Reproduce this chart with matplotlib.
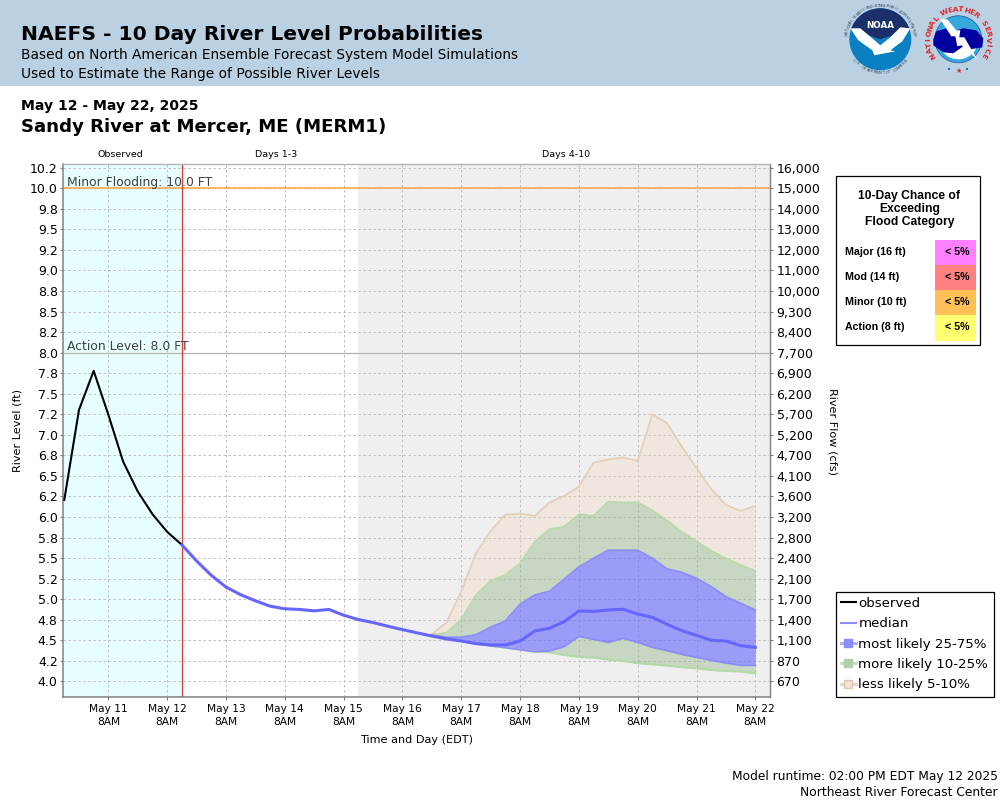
import numpy as np
import pandas as pd
import matplotlib
matplotlib.use("Agg")
import matplotlib.pyplot as plt
from matplotlib.lines import Line2D
from matplotlib.patches import Rectangle, Circle, Polygon, Wedge

# ---------- data ----------
observed = [6.208, 7.304, 7.778, 7.243, 6.675, 6.310, 6.034, 5.819, 5.661]
median_near = [5.660, 5.465, 5.290, 5.147, 5.054, 4.980, 4.915, 4.883, 4.875, 4.858,
               4.875, 4.805, 4.752, 4.716, 4.671, 4.630, 4.590]
median_far = [4.552, 4.516, 4.491, 4.459, 4.443, 4.443, 4.491, 4.613, 4.646, 4.727,
              4.856, 4.852, 4.869, 4.877, 4.820, 4.779, 4.694, 4.617, 4.560, 4.500,
              4.491, 4.435, 4.414]
tan_high = [4.573, 4.715, 5.092, 5.558, 5.830, 6.029, 6.041, 6.013, 6.175, 6.256,
            6.370, 6.662, 6.702, 6.723, 6.682, 7.250, 7.140, 6.856, 6.593, 6.341,
            6.147, 6.074, 6.134]
green_high = [4.568, 4.593, 4.755, 5.051, 5.222, 5.295, 5.437, 5.700, 5.850, 5.883,
              6.033, 6.013, 6.187, 6.175, 6.179, 6.078, 5.956, 5.818, 5.704, 5.587,
              5.497, 5.416, 5.343]
blue_high = [4.564, 4.536, 4.536, 4.568, 4.658, 4.735, 4.938, 5.051, 5.096, 5.242,
             5.392, 5.497, 5.595, 5.595, 5.595, 5.497, 5.368, 5.327, 5.254, 5.153,
             5.031, 4.950, 4.869]
blue_low = [4.552, 4.516, 4.491, 4.459, 4.435, 4.410, 4.386, 4.362, 4.370, 4.422,
            4.548, 4.512, 4.475, 4.524, 4.475, 4.414, 4.374, 4.329, 4.293, 4.256,
            4.224, 4.195, 4.195]
green_low = [4.552, 4.516, 4.491, 4.459, 4.431, 4.410, 4.386, 4.362, 4.353, 4.321,
             4.297, 4.289, 4.264, 4.248, 4.220, 4.207, 4.191, 4.171, 4.159, 4.138,
             4.126, 4.118, 4.098]

level_ticks = [10.25, 10.0, 9.75, 9.5, 9.25, 9.0, 8.75, 8.5, 8.25, 8.0, 7.75, 7.5, 7.25,
               7.0, 6.75, 6.5, 6.25, 6.0, 5.75, 5.5, 5.25, 5.0, 4.75, 4.5, 4.25, 4.0]
level_labels = ["10.2", "10.0", "9.8", "9.5", "9.2", "9.0", "8.8", "8.5", "8.2", "8.0",
                "7.8", "7.5", "7.2", "7.0", "6.8", "6.5", "6.2", "6.0", "5.8", "5.5",
                "5.2", "5.0", "4.8", "4.5", "4.2", "4.0"]
flow_labels = ["16,000", "15,000", "14,000", "13,000", "12,000", "11,000", "10,000", "9,300",
               "8,400", "7,700", "6,900", "6,200", "5,700", "5,200", "4,700", "4,100", "3,600",
               "3,200", "2,800", "2,400", "2,100", "1,700", "1,400", "1,100", "870", "670"]
day_labels = ["May 11\n8AM", "May 12\n8AM", "May 13\n8AM", "May 14\n8AM", "May 15\n8AM", "May 16\n8AM",
              "May 17\n8AM", "May 18\n8AM", "May 19\n8AM", "May 20\n8AM", "May 21\n8AM", "May 22\n8AM"]
flood_rows = ["Major (16 ft)", "Mod (14 ft)", "Minor (10 ft)", "Action (8 ft)"]
flood_chance = ["< 5%", "< 5%", "< 5%", "< 5%"]
flood_colors = ["#FF80FF", "#FF8080", "#FFC055", "#FFFF70"]

times = pd.date_range("2025-05-10 14:00", periods=48, freq="6h")
t_obs = times[:9]
t_med = times[8:]
t_band = times[25:]
median = median_near + median_far
day_ticks = pd.date_range("2025-05-11 08:00", periods=12, freq="1D")

# ---------- figure ----------
W, H = 1000, 800
fig = plt.figure(figsize=(10, 8), dpi=100, facecolor="white")
L, R, T, B = 63.3, 770.3, 164.3, 697.3
ax = fig.add_axes([L / W, 1 - B / H, (R - L) / W, (B - T) / H], zorder=2)

ax.set_xlim(pd.Timestamp("2025-05-10 13:36"), pd.Timestamp("2025-05-22 14:07"))
ax.set_ylim(3.806, 10.292)

ax.axvspan(pd.Timestamp("2025-05-10 13:36"), pd.Timestamp("2025-05-12 14:00"), color="#E8FFFF", lw=0, zorder=0)
ax.axvspan(pd.Timestamp("2025-05-15 14:00"), pd.Timestamp("2025-05-22 14:07"), color="#EFEFEF", lw=0, zorder=0)

ax.set_yticks(level_ticks)
ax.set_yticklabels(level_labels, fontsize=9)
ax.set_xticks(day_ticks)
ax.set_xticklabels(day_labels, fontsize=7.7, linespacing=1.3)
ax.grid(True, color="#C0C0C0", lw=0.72, ls=(0, (2.5, 2.5)), zorder=1)
ax.set_axisbelow(True)
ax.tick_params(axis="both", length=2, width=0.8, color="#808080", pad=2)
ax.tick_params(axis="x", pad=3)

ax.axhline(10.0, color="#FFA040", lw=1.1, zorder=2)
ax.axhline(8.0, color="#B4B4B4", lw=0.9, zorder=2)
ax.axvline(pd.Timestamp("2025-05-12 14:00"), color="#D83838", lw=0.9, zorder=2)

tan_fill = (240 / 255, 215 / 255, 180 / 255, 0.30)
green_fill = (140 / 255, 180 / 255, 130 / 255, 0.40)
blue_fill = (100 / 255, 100 / 255, 1.0, 0.60)
ax.fill_between(t_band, green_high, tan_high, color=tan_fill, lw=0, zorder=3)
ax.fill_between(t_band, blue_high, green_high, color=green_fill, lw=0, zorder=3)
ax.fill_between(t_band, green_low, blue_low, color=green_fill, lw=0, zorder=3)
ax.fill_between(t_band, blue_low, blue_high, color=blue_fill, lw=0, zorder=3)
ax.plot(t_band, tan_high, color="#E5CFB6", lw=1.3, zorder=4)
ax.plot(t_band, green_high, color="#BAD8AE", lw=1.3, zorder=4)
ax.plot(t_band, green_low, color="#B4D8A8", lw=1.5, zorder=4)
ax.plot(t_band, blue_high, color="#8C8CFA", lw=1.3, zorder=4)
ax.plot(t_band, blue_low, color="#8C8CFA", lw=1.3, zorder=4)
ax.plot(t_obs, observed, color="black", lw=1.5, zorder=5)
ax.plot(t_med, median, color="#6666FF", lw=2.2, zorder=6)

for s in ["left", "bottom"]:
    ax.spines[s].set_color("#808080")
    ax.spines[s].set_linewidth(1.1)
ax.spines["top"].set_color("#B4B4B4")
ax.spines["top"].set_linewidth(1.0)
ax.spines["right"].set_color("#808080")
ax.spines["right"].set_linewidth(1.0)

ax2 = ax.twinx()
ax2.set_ylim(ax.get_ylim())
ax2.set_yticks(level_ticks)
ax2.set_yticklabels(flow_labels, fontsize=9)
ax2.tick_params(axis="y", length=2, width=0.8, color="#808080", pad=2.5)
for s in ax2.spines.values():
    s.set_visible(False)

# ---------- overlay in pixel coordinates ----------
ov = fig.add_axes([0, 0, 1, 1], zorder=3)
ov.set_xlim(0, W)
ov.set_ylim(H, 0)
ov.axis("off")
ov.patch.set_alpha(0)
bg = fig.add_axes([0, 0, 1, 1], zorder=0)
bg.set_xlim(0, W)
bg.set_ylim(H, 0)
bg.axis("off")
bg.add_patch(Rectangle((0, 0), W, 86, color="#BAD1E4", lw=0))

ov.text(21, 39.5, "NAEFS - 10 Day River Level Probabilities", fontsize=14.6, fontweight="bold", va="baseline")
ov.text(21, 59, "Based on North American Ensemble Forecast System Model Simulations", fontsize=9.9, va="baseline")
ov.text(21, 78, "Used to Estimate the Range of Possible River Levels", fontsize=9.9, va="baseline")
ov.text(21, 110, "May 12 - May 22, 2025", fontsize=10.05, fontweight="bold", va="baseline")
ov.text(21, 132, "Sandy River at Mercer, ME (MERM1)", fontsize=13.1, fontweight="bold", va="baseline")
ov.text(120, 157, "Observed", fontsize=6.8, ha="center", va="baseline")
ov.text(276.5, 157, "Days 1-3", fontsize=6.8, ha="center", va="baseline")
ov.text(566.5, 157, "Days 4-10", fontsize=6.8, ha="center", va="baseline")
ov.text(67, 186, "Minor Flooding: 10.0 FT", fontsize=8.9, color="#404040", va="baseline")
ov.text(67, 350, "Action Level: 8.0 FT", fontsize=8.9, color="#404040", va="baseline")
ov.text(18, 431, "River Level (ft)", fontsize=8.1, rotation=90, ha="center", va="center")
ov.text(832, 431, "River Flow (cfs)", fontsize=8.1, rotation=270, ha="center", va="center")
ov.text(417, 743, "Time and Day (EDT)", fontsize=8.1, ha="center", va="baseline")
ov.text(998, 780, "Model runtime: 02:00 PM EDT May 12 2025", fontsize=8.8, ha="right", va="baseline")
ov.text(998, 795.7, "Northeast River Forecast Center", fontsize=8.8, ha="right", va="baseline")

# flood category table
sans = "Liberation Sans"
ov.add_patch(Rectangle((836.3, 176.3), 144, 169, fc="white", ec="black", lw=0.9))
for i, line in enumerate(["10-Day Chance of", "Exceeding", "Flood Category"]):
    ov.text(909.5, 199 + 13 * i, line, family=sans, fontweight="bold", fontsize=8.7, ha="center", va="baseline")
row_edges = [240, 265, 290, 315, 341]
for i, (lab, ch, col) in enumerate(zip(flood_rows, flood_chance, flood_colors)):
    ov.add_patch(Rectangle((935, row_edges[i]), 41, row_edges[i + 1] - row_edges[i], fc=col, lw=0))
    ov.text(845, row_edges[i] + 15, lab, family=sans, fontweight="bold", fontsize=7.7, va="baseline")
    ov.text(969.5, row_edges[i] + 15, ch, family=sans, fontweight="bold", fontsize=7.7, ha="right", va="baseline")

# legend
handles = [
    Line2D([], [], color="black", lw=1.5, label="observed"),
    Line2D([], [], color="#8C8CFF", lw=1.5, label="median"),
    Line2D([], [], color="#A8A8FF", lw=2, marker="s", ms=5.5, mfc="#8C8CFA", mec="#8C8CFA", label="most likely 25-75%"),
    Line2D([], [], color="#C0DCB8", lw=2, marker="s", ms=5.5, mfc="#B0D0A8", mec="#B0D0A8", label="more likely 10-25%"),
    Line2D([], [], color="#E8D4BE", lw=2, marker="s", ms=5.5, mfc="#EFE4D6", mec="#E0C8B0", label="less likely 5-10%"),
]
fig.legend(handles=handles, loc="upper left", bbox_to_anchor=(835.5 / W, 1 - 591.5 / H), fontsize=9.65,
           frameon=True, fancybox=False, framealpha=1, edgecolor="black", borderpad=0.4, labelspacing=0.55,
           handlelength=1.1, handletextpad=0.2, borderaxespad=0).get_frame().set_linewidth(0.9)


# logos (decorative)
def ring_text(cx, cy, r, text, start, end, flip=False, **kw):
    angs = np.linspace(start, end, len(text))
    for ch, a in zip(text, angs):
        x = cx + r * np.cos(np.radians(a))
        y = cy - r * np.sin(np.radians(a))
        rot = a + 90 if flip else a - 90
        ov.text(x, y, ch, rotation=rot, ha="center", va="center", rotation_mode="anchor", **kw)


cx, cy = 880.3, 39.3
ov.add_patch(Circle((cx, cy), 31, fc="#0A7FC2", ec="none"))
ov.add_patch(Wedge((cx, cy), 31, 198, 342, fc="#1B2F6B", ec="none"))
ov.add_patch(Polygon([(cx - 30, cy - 11), (cx - 20, cy - 11), (cx - 8, cy - 1), (cx, cy + 6), (cx + 10, cy - 2),
                      (cx + 20, cy - 12), (cx + 30, cy - 11), (cx + 22, cy + 2), (cx + 10, cy + 11), (cx + 15, cy + 12),
                      (cx - 6, cy + 16), (cx - 8, cy + 11), (cx - 22, cy + 1)],
                     fc="white", ec="none"))
ov.text(cx, cy - 14, "NOAA", color="white", fontsize=6.3, fontweight="bold", ha="center", va="center")
ring_text(cx, cy, 33.7, "NATIONAL OCEANIC AND ATMOSPHERIC ADMINISTRATION", 172, 8, fontsize=2.6, color="#3A4A60")
ring_text(cx, cy, 33.7, "U.S. DEPARTMENT OF COMMERCE", 218, 322, flip=True, fontsize=2.6, color="#3A4A60")

cx, cy = 958.3, 39.3
ov.add_patch(Circle((cx, cy), 23.5, fc="#35A8DC", ec="#1B4D9C", lw=0.5))
ov.add_patch(Wedge((cx, cy), 20, 15, 165, fc="white", ec="none"))
ov.add_patch(Polygon([(cx - 25, cy), (cx - 22, cy - 8), (cx - 12, cy - 11), (cx - 5, cy - 8), (cx + 5, cy - 11),
                      (cx + 18, cy - 9), (cx + 25, cy - 1), (cx + 24, cy + 8), (cx + 12, cy + 10), (cx + 5, cy + 7),
                      (cx - 5, cy + 14), (cx - 15, cy + 13), (cx - 25, cy + 6)],
                     fc="#0000A0", ec="none"))
ov.add_patch(Polygon([(cx - 18, cy - 20), (cx - 11, cy - 20), (cx - 2, cy - 9), (cx + 2, cy - 9), (cx + 1, cy - 2),
                      (cx + 6, cy - 2), (cx + 19, cy + 20), (cx + 3, cy + 6), (cx - 1, cy + 7), (cx - 3, cy - 3),
                      (cx - 7, cy - 3)], fc="white", ec="none"))
ring_text(cx, cy, 29.8, "NATIONAL WEATHER SERVICE", 212, -32, fontsize=5.4, color="#E02828", fontweight="bold")
for dx, col in zip([-9, 0, 9], ["#1B4D9C", "#E02828", "#1B4D9C"]):
    ov.text(cx + dx, cy + 32 - abs(dx) * 0.15, "\u2605" if dx == 0 else "\u2022", color=col, fontsize=5, ha="center", va="center")

fig.savefig("out.png", dpi=100)
